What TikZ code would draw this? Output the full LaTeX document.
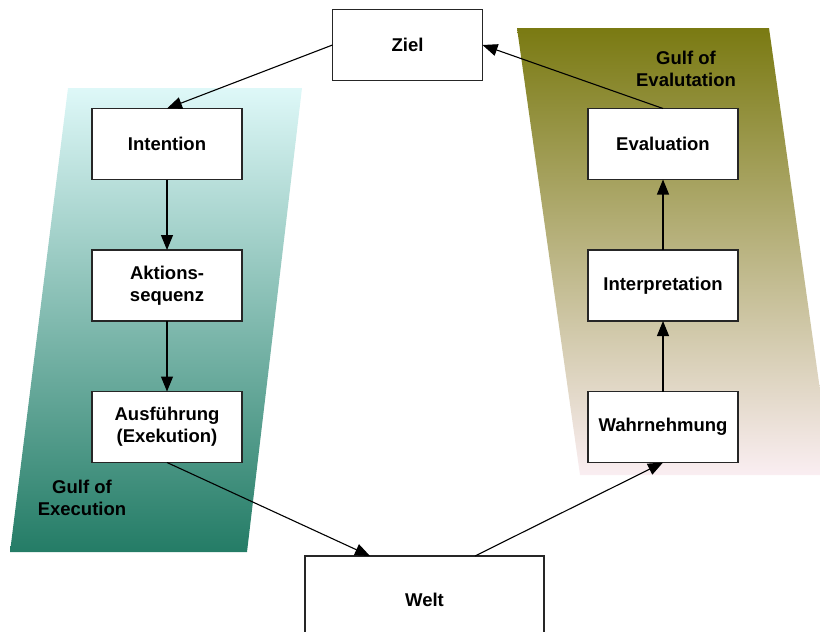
\documentclass[tikz,border=0pt]{standalone}
\usepackage{fontspec}
\setmainfont{Liberation Sans}
\usetikzlibrary{positioning,arrows.meta}
\definecolor{execlight}{RGB}{222,248,248}
\definecolor{execdark}{RGB}{36,124,102}
\definecolor{evaldark}{RGB}{122,122,18}
\definecolor{evallight}{RGB}{250,238,242}
\tikzset{
  stage/.style = {shape=rectangle, draw=black!85, fill=white,
                  line width=1.3pt, inner sep=0pt, outer sep=0pt,
                  minimum width=150pt, minimum height=71pt,
                  align=center, font=\bfseries\fontsize{18.5}{22}\selectfont},
  world/.style = {stage, minimum width=239pt, minimum height=88pt},
  gulf/.style  = {align=center, font=\bfseries\fontsize{18.5}{22}\selectfont}
}

\begin{document}
\begin{tikzpicture}[x=1pt, y=-1pt, line width=1.1pt,
                    -{Triangle[length=15pt,width=12pt]}, node distance=70.5pt]
  \useasboundingbox (0,0) rectangle (820,632);
  \clip (0,0) rectangle (820,632);
  % the two gulfs
  \shade[top color=execlight, bottom color=execdark]
    (68,88) -- (302,88) -- (247,552) -- (10,552) -- cycle;
  \shade[top color=evaldark, bottom color=evallight]
    (517,28) -- (769,28) -- (832,475) -- (580,475) -- cycle;
  \node[gulf] (execlabel) at (82,498) {Gulf of\\Execution};
  \node[gulf] (evallabel) at (686,69) {Gulf of\\Evalutation};
  % stages
  \node[stage] (ziel) at (407.5,45) {Ziel};
  \node[stage] (intention) at (167,144) {Intention};
  \node[stage, below=of intention] (sequenz) {Aktions-\\sequenz};
  \node[stage, below=of sequenz] (ausfuehrung) {Ausführung\\(Exekution)};
  \node[stage] (evaluation) at (663,144) {Evaluation};
  \node[stage, below=of evaluation] (interpretation) {Interpretation};
  \node[stage, below=of interpretation] (wahrnehmung) {Wahrnehmung};
  \node[world] (welt) at (424.5,600) {Welt};
  % cycle
  \draw (ziel.west) -- (intention.north);
  \draw (intention) -- (sequenz);
  \draw (sequenz) -- (ausfuehrung);
  \draw (ausfuehrung.south) -- ([xshift=65pt]welt.north west);
  \draw ([xshift=-69pt]welt.north east) -- (wahrnehmung.south);
  \draw (wahrnehmung) -- (interpretation);
  \draw (interpretation) -- (evaluation);
  \draw (evaluation.north) -- (ziel.east);
\end{tikzpicture}
\end{document}
